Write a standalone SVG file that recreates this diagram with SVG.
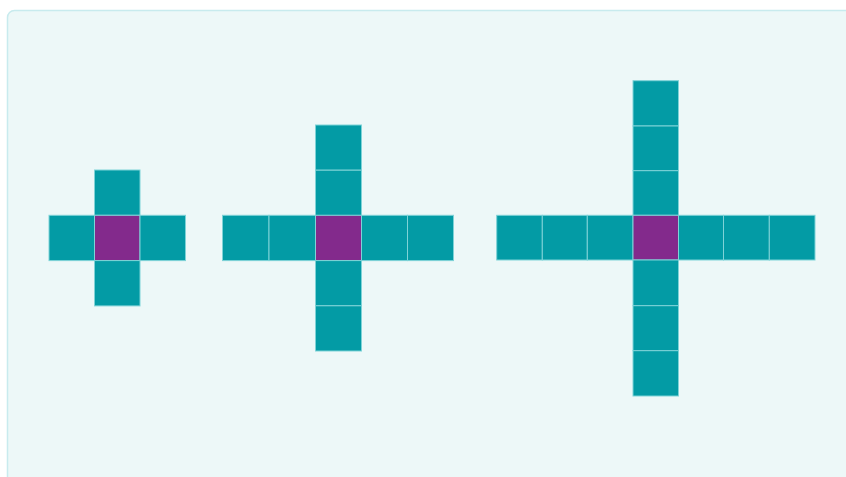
<svg xmlns="http://www.w3.org/2000/svg" width="846" height="477" viewBox="0 0 846 477">
<style>
.t{fill:#039BA5;stroke:#7FD3D7;stroke-width:1}
.p{fill:#832A8C;stroke:#7FD3D7;stroke-width:1}
</style>
<rect x="0" y="0" width="846" height="477" fill="#ffffff"/>
<rect x="7.5" y="10.5" width="850" height="480" rx="7" fill="#EDF8F8" stroke="#C8EBEE" stroke-width="1.5"/>
<g id="cross1">
<rect class="t" x="94.5" y="170" width="45.5" height="45.3"/>
<rect class="t" x="49" y="215.3" width="45.5" height="45.3"/>
<rect class="p" x="94.5" y="215.3" width="45.5" height="45.3"/>
<rect class="t" x="140" y="215.3" width="45.5" height="45.3"/>
<rect class="t" x="94.5" y="260.6" width="45.5" height="45.3"/>
</g>
<g id="cross2">
<rect class="t" x="315.5" y="125" width="46" height="45.2"/>
<rect class="t" x="315.5" y="170.2" width="46" height="45.2"/>
<rect class="t" x="222.5" y="215.3" width="46.5" height="45.3"/>
<rect class="t" x="269" y="215.3" width="46.5" height="45.3"/>
<rect class="p" x="315.5" y="215.3" width="46" height="45.3"/>
<rect class="t" x="361.5" y="215.3" width="46" height="45.3"/>
<rect class="t" x="407.5" y="215.3" width="46" height="45.3"/>
<rect class="t" x="315.5" y="260.6" width="46" height="45.2"/>
<rect class="t" x="315.5" y="305.8" width="46" height="45.2"/>
</g>
<g id="cross3">
<rect class="t" x="633" y="80.7" width="45.5" height="45.3"/>
<rect class="t" x="633" y="126" width="45.5" height="44.7"/>
<rect class="t" x="633" y="170.7" width="45.5" height="44.6"/>
<rect class="t" x="496.7" y="215.3" width="45.6" height="44.7"/>
<rect class="t" x="542.3" y="215.3" width="45" height="44.7"/>
<rect class="t" x="587.3" y="215.3" width="45.7" height="44.7"/>
<rect class="p" x="633" y="215.3" width="45.5" height="44.7"/>
<rect class="t" x="678.5" y="215.3" width="45" height="44.7"/>
<rect class="t" x="723.5" y="215.3" width="45.8" height="44.7"/>
<rect class="t" x="769.3" y="215.3" width="45.7" height="44.7"/>
<rect class="t" x="633" y="260" width="45.5" height="45.7"/>
<rect class="t" x="633" y="305.7" width="45.5" height="45"/>
<rect class="t" x="633" y="350.7" width="45.5" height="45.3"/>
</g>
</svg>
